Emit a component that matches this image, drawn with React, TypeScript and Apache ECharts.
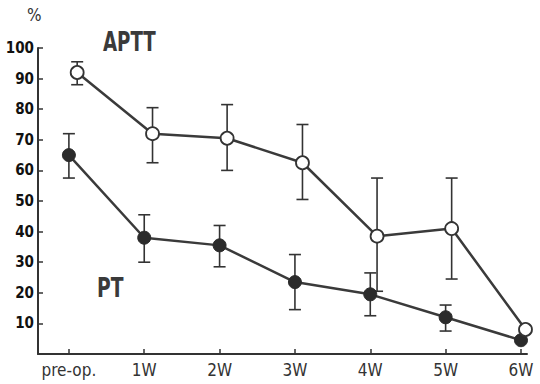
import React, { useEffect, useRef } from "react";
import * as echarts from "echarts";

const categories = ["pre-op.", "1W", "2W", "3W", "4W", "5W", "6W"];
const categoryPos = [0, 1, 2, 3, 4, 5, 6];
const yTicks = [10, 20, 30, 40, 50, 60, 70, 80, 90, 100];

const ptX = [0, 1, 2, 3, 4, 5, 6];
const ptValues = [65, 38, 35.5, 23.5, 19.5, 12, 4.5];
const ptHigh = [72, 45.5, 42, 32.5, 26.5, 16, null];
const ptLow = [57.5, 30, 28.5, 14.5, 12.5, 7.5, null];

const apttX = [0.11, 1.11, 2.1, 3.1, 4.09, 5.08, 6.06];
const apttValues = [92, 72, 70.5, 62.5, 38.5, 41, 8];
const apttHigh = [95.5, 80.5, 81.5, 75, 57.5, 57.5, null];
const apttLow = [88, 62.5, 60, 50.5, 20.5, 24.5, null];

const INK = "#333333";

function errData(xs: number[], hi: (number | null)[], lo: (number | null)[]) {
  const out: number[][] = [];
  xs.forEach((x, i) => {
    if (hi[i] != null && lo[i] != null) out.push([x, hi[i] as number, lo[i] as number]);
  });
  return out;
}

function renderErr(params: any, api: any) {
  const x = api.value(0);
  const top = api.coord([x, api.value(1)]);
  const bot = api.coord([x, api.value(2)]);
  const w = 6;
  const st = { stroke: INK, lineWidth: 1.6 };
  return {
    type: "group",
    children: [
      { type: "line", shape: { x1: top[0], y1: top[1], x2: bot[0], y2: bot[1] }, style: st },
      { type: "line", shape: { x1: top[0] - w, y1: top[1], x2: top[0] + w, y2: top[1] }, style: st },
      { type: "line", shape: { x1: bot[0] - w, y1: bot[1], x2: bot[0] + w, y2: bot[1] }, style: st },
    ],
  };
}

export default function App() {
  const ref = useRef<HTMLDivElement>(null);
  useEffect(() => {
    if (!ref.current) return;
    const chart = echarts.init(ref.current, null, { renderer: "svg" });
    chart.setOption({
      animation: false,
      backgroundColor: "#ffffff",
      grid: { left: 38, right: 13, top: 48, bottom: 30 },
      xAxis: {
        type: "value",
        min: -0.41,
        max: 6.08,
        splitLine: { show: false },
        axisLine: { show: true, onZero: false, lineStyle: { color: INK, width: 2 } },
        axisTick: { show: true, inside: true, length: 5, customValues: categoryPos, lineStyle: { color: INK, width: 1.5 } },
        axisLabel: {
          customValues: categoryPos,
          formatter: (v: number) => categories[Math.round(v)] ?? "",
          color: INK,
          fontFamily: "DejaVu Sans Condensed",
          fontSize: 17,
          margin: 7,
        },
      },
      yAxis: {
        type: "value",
        min: 0,
        max: 100,
        interval: 10,
        splitLine: { show: false },
        axisLine: { show: true, onZero: false, lineStyle: { color: INK, width: 2 } },
        axisTick: { show: true, inside: true, length: 5, customValues: yTicks, lineStyle: { color: INK, width: 1.5 } },
        axisLabel: {
          customValues: yTicks,
          color: "#111",
          fontFamily: "DejaVu Sans Condensed",
          fontWeight: "bold",
          fontSize: 15,
          margin: 4,
        },
      },
      graphic: [
        { type: "text", left: 27, top: 6, style: { text: "%", fill: INK, font: "17px 'DejaVu Sans Condensed'" } },
        { type: "text", x: 103, y: 29, scaleX: 0.78, style: { text: "APTT", fill: "#3a3a3a", font: "bold 26px 'DejaVu Sans Condensed'" } },
        { type: "text", x: 97, y: 275, scaleX: 0.8, style: { text: "PT", fill: "#3a3a3a", font: "bold 26px 'DejaVu Sans Condensed'" } },
      ],
      series: [
        {
          type: "custom",
          name: "PT err",
          renderItem: renderErr,
          data: errData(ptX, ptHigh, ptLow),
          encode: { x: 0, y: [1, 2] },
          z: 1,
          clip: false,
        },
        {
          type: "custom",
          name: "APTT err",
          renderItem: renderErr,
          data: errData(apttX, apttHigh, apttLow),
          encode: { x: 0, y: [1, 2] },
          z: 1,
          clip: false,
        },
        {
          type: "line",
          name: "PT",
          data: ptX.map((x, i) => [x, ptValues[i]]),
          symbol: "circle",
          symbolSize: 13,
          itemStyle: { color: "#2b2b2b", borderColor: "#2b2b2b", borderWidth: 1 },
          lineStyle: { color: "#3a3a3a", width: 2.5 },
          z: 3,
          clip: false,
        },
        {
          type: "line",
          name: "APTT",
          data: apttX.map((x, i) => [x, apttValues[i]]),
          symbol: "circle",
          symbolSize: 13,
          itemStyle: { color: "#ffffff", borderColor: "#333", borderWidth: 1.8 },
          lineStyle: { color: "#3a3a3a", width: 2.5 },
          z: 4,
          clip: false,
        },
      ],
    });
    return () => chart.dispose();
  }, []);
  return (
    <div
      ref={ref}
      style={{ position: "fixed", left: 0, top: 0, width: 540, height: 384, background: "#fff" }}
    />
  );
}
